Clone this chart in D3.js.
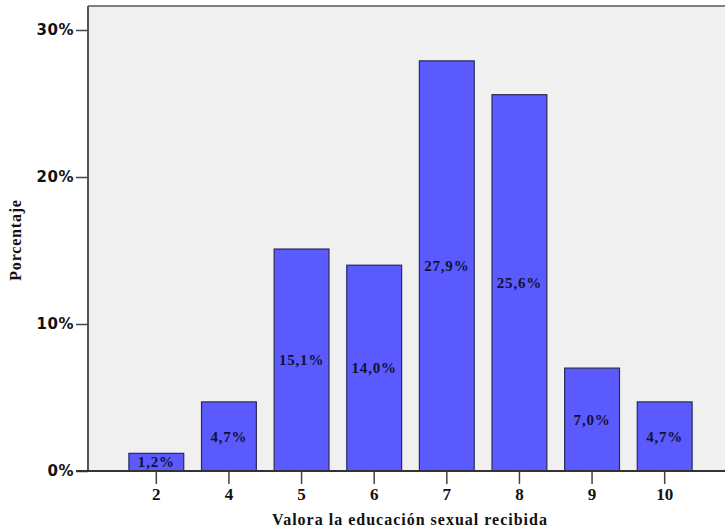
<!DOCTYPE html>
<html>
<head>
<meta charset="utf-8">
<script src="https://cdn.jsdelivr.net/npm/d3@7"></script>
<style>
  html, body { margin: 0; padding: 0; background: #ffffff; }
  svg { display: block; }
</style>
</head>
<body>
<svg id="chart" width="725" height="531"></svg>
<script>
const categories = ["2", "4", "5", "6", "7", "8", "9", "10"];
const values = [1.2, 4.7, 15.1, 14.0, 27.9, 25.6, 7.0, 4.7];
const labels = ["1,2%", "4,7%", "15,1%", "14,0%", "27,9%", "25,6%", "7,0%", "4,7%"];
const yTicks = [0, 10, 20, 30];
const xTitle = "Valora la educación sexual recibida";
const yTitle = "Porcentaje";

const svg = d3.select("#chart");
const plot = { left: 88, top: 6, right: 725, bottom: 471 };

const x = d3.scaleBand()
  .domain(categories)
  .range([120, 701])
  .paddingInner(0.245)
  .paddingOuter(0.1225);

const y = d3.scaleLinear()
  .domain([0, 10])
  .range([plot.bottom, plot.bottom - 147]);

// plot background
svg.append("rect")
  .attr("x", plot.left).attr("y", plot.top)
  .attr("width", plot.right - plot.left).attr("height", plot.bottom - plot.top)
  .attr("fill", "#f0f0f0");

// top border
svg.append("line")
  .attr("x1", plot.left).attr("x2", plot.right)
  .attr("y1", plot.top).attr("y2", plot.top)
  .attr("stroke", "#808080").attr("stroke-width", 2);

// bars
svg.selectAll("rect.bar")
  .data(values)
  .join("rect")
  .attr("class", "bar")
  .attr("x", (d, i) => x(categories[i]))
  .attr("y", d => y(d))
  .attr("width", x.bandwidth())
  .attr("height", d => y(0) - y(d))
  .attr("fill", "#5a5aff")
  .attr("stroke", "#2a2a55")
  .attr("stroke-width", 1.2);

// bar labels
svg.selectAll("text.blabel")
  .data(values)
  .join("text")
  .attr("class", "blabel")
  .attr("x", (d, i) => x(categories[i]) + x.bandwidth() / 2)
  .attr("y", d => (y(d) + y(0)) / 2)
  .attr("dy", "0.35em")
  .attr("text-anchor", "middle")
  .attr("font-family", "Liberation Serif, serif")
  .attr("font-weight", "bold")
  .attr("font-size", 15)
  .attr("letter-spacing", 0.8)
  .attr("fill", "#111133")
  .text((d, i) => labels[i]);

// y axis
const yAxis = d3.axisLeft(y)
  .tickValues(yTicks)
  .tickFormat(d => d + "%")
  .tickSize(12)
  .tickPadding(2);
const gy = svg.append("g")
  .attr("transform", `translate(${plot.left},0)`)
  .call(yAxis);
gy.select(".domain").attr("d", `M0,${plot.top}V${plot.bottom}`).attr("stroke", "#555").attr("stroke-width", 2);
gy.selectAll(".tick line").attr("stroke", "#444").attr("stroke-width", 1.5);
gy.selectAll(".tick text")
  .attr("font-family", "DejaVu Sans, sans-serif")
  .attr("font-weight", "bold")
  .attr("font-size", 15)
  .attr("letter-spacing", 0.5)
  .attr("fill", "#111");

// x axis
const xAxis = d3.axisBottom(x).tickSize(13).tickPadding(4);
const gx = svg.append("g")
  .attr("transform", `translate(0,${plot.bottom})`)
  .call(xAxis);
gx.select(".domain").attr("d", `M${plot.left - 12},0H${plot.right}`).attr("stroke", "#333").attr("stroke-width", 2);
gx.selectAll(".tick line").attr("stroke", "#444").attr("stroke-width", 1.5);
gx.selectAll(".tick text")
  .attr("font-family", "Liberation Serif, serif")
  .attr("font-weight", "bold")
  .attr("font-size", 17)
  .attr("fill", "#111");

// axis titles
svg.append("text")
  .attr("x", 410).attr("y", 525)
  .attr("text-anchor", "middle")
  .attr("font-family", "Liberation Serif, serif")
  .attr("font-weight", "bold")
  .attr("font-size", 16)
  .attr("letter-spacing", 1)
  .attr("fill", "#111")
  .text(xTitle);

svg.append("text")
  .attr("transform", "translate(21,240) rotate(-90)")
  .attr("text-anchor", "middle")
  .attr("font-family", "Liberation Serif, serif")
  .attr("font-weight", "bold")
  .attr("font-size", 16)
  .attr("letter-spacing", 0.8)
  .attr("fill", "#111")
  .text(yTitle);
</script>
</body>
</html>
